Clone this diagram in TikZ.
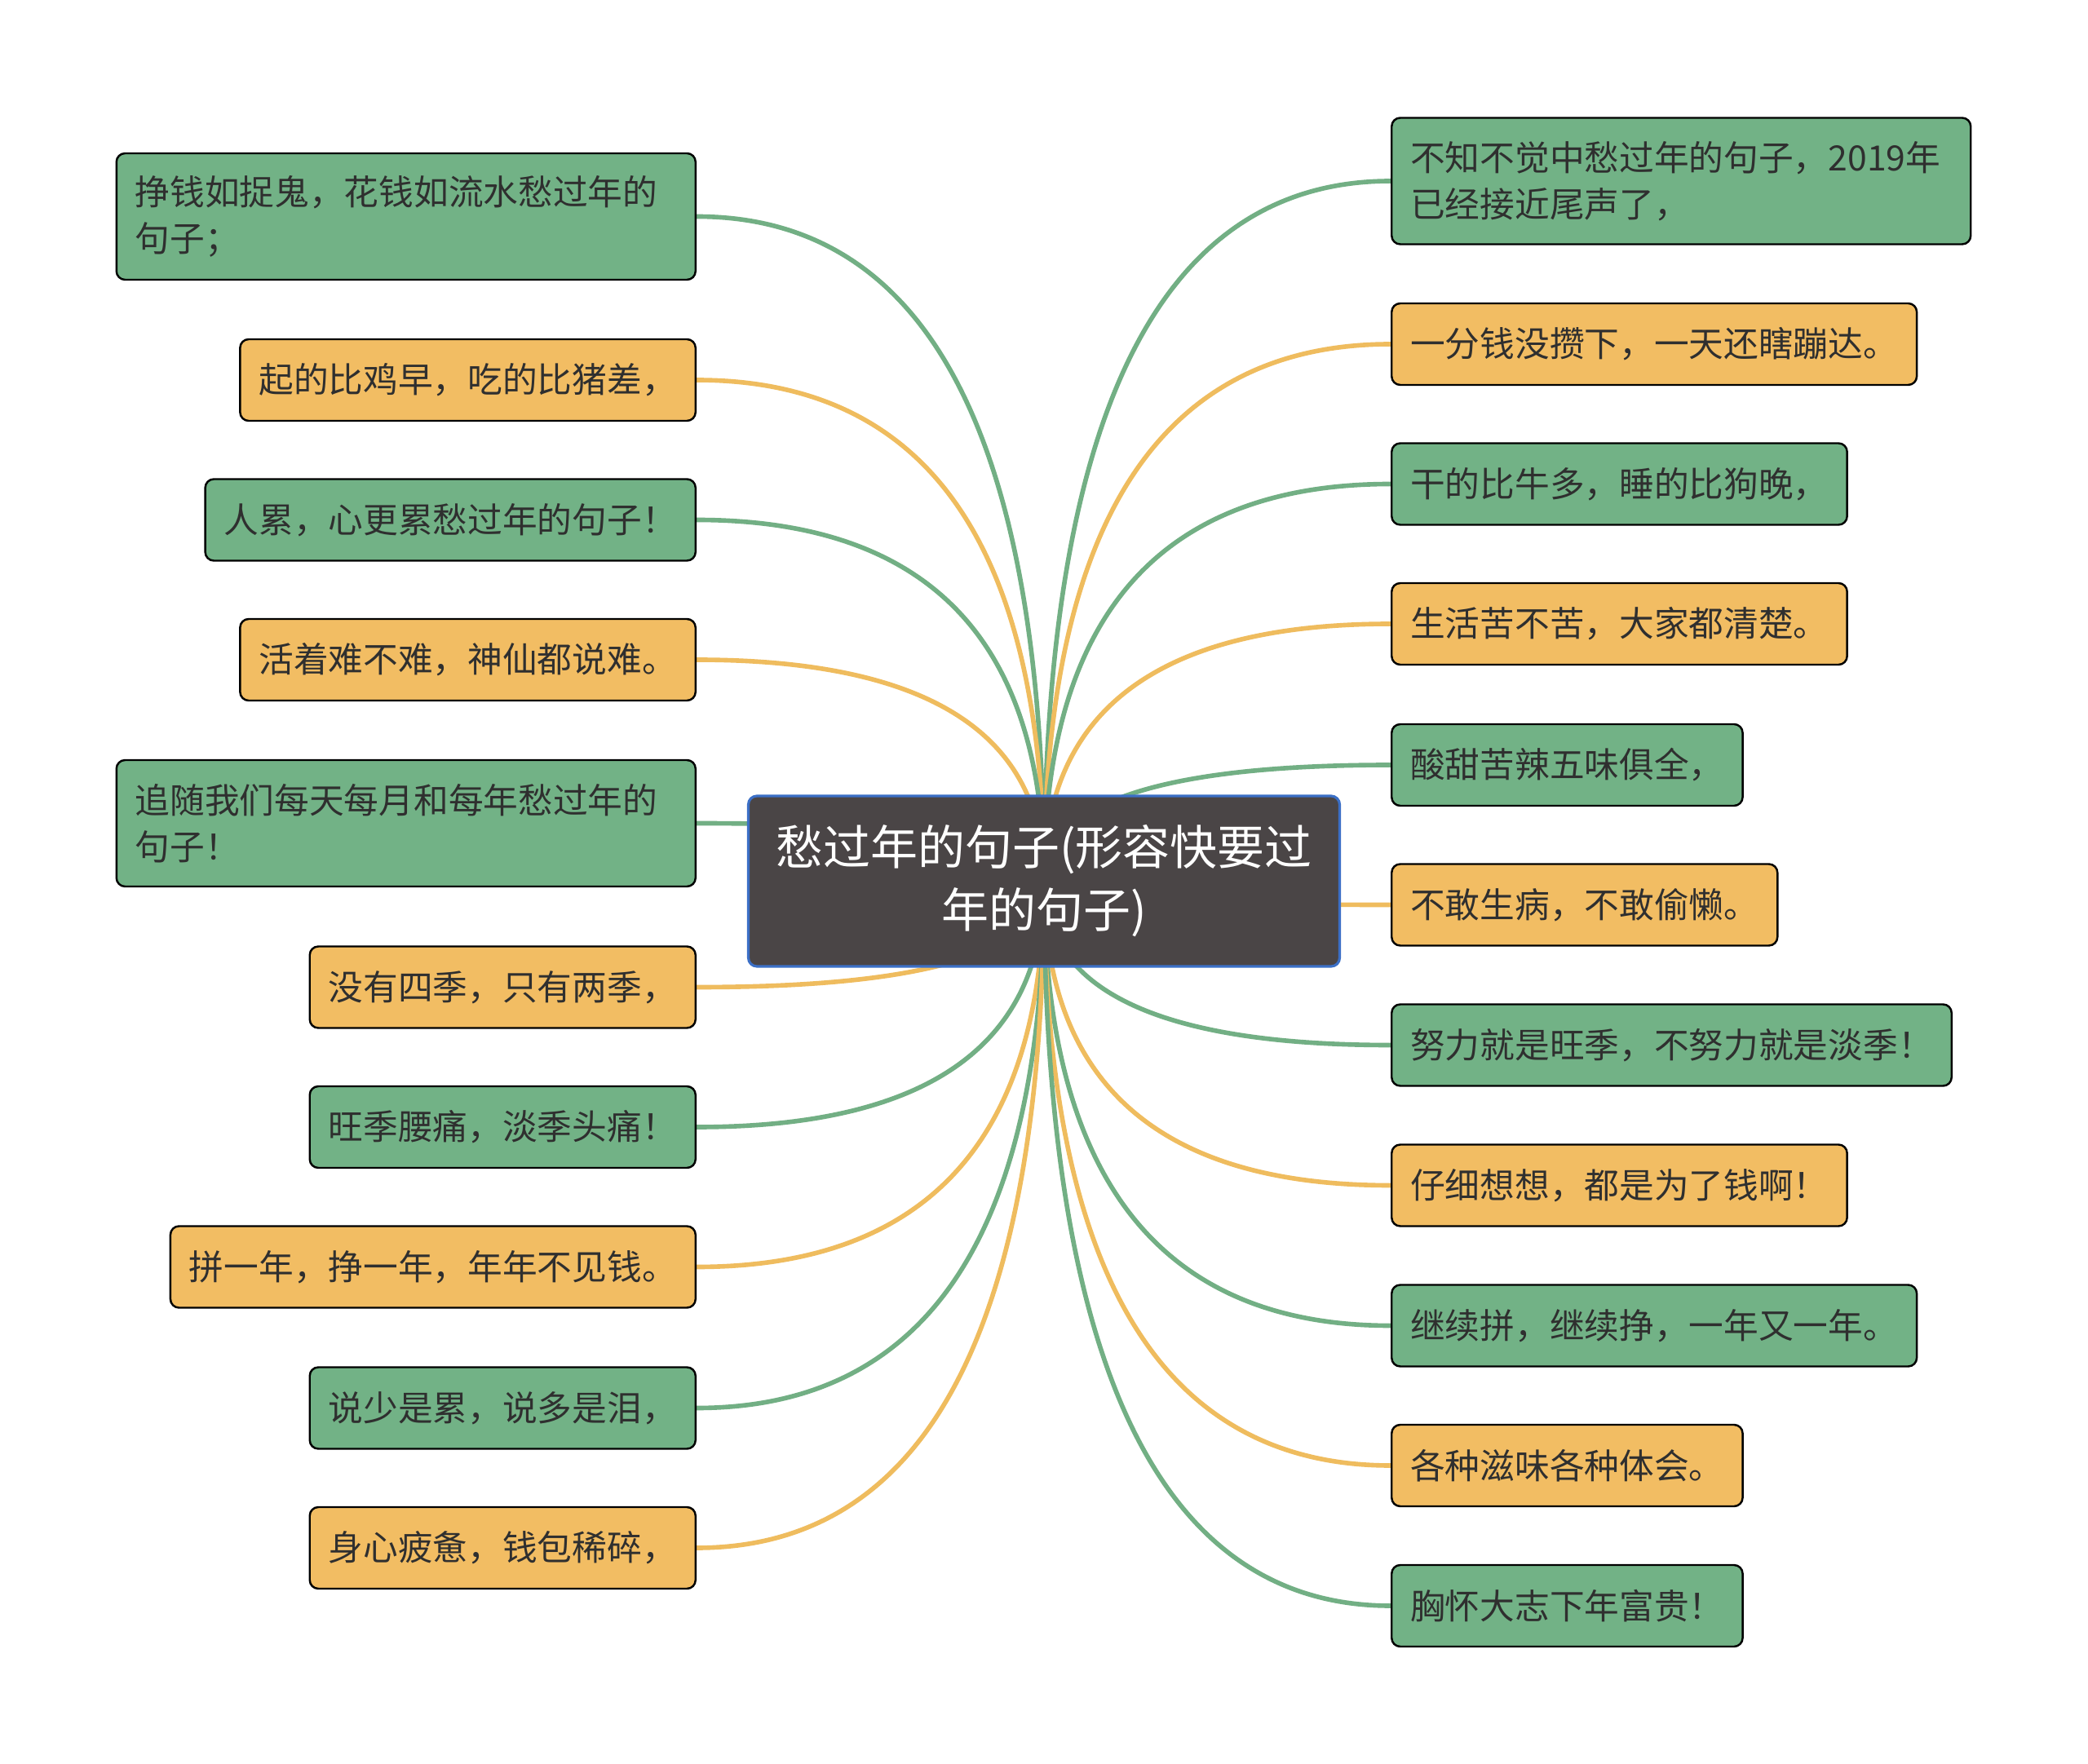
\documentclass[tikz,border=0pt]{standalone}
\usepackage{fontspec}
\newfontfamily\cjk{Noto Sans CJK SC}
\usetikzlibrary{calc,backgrounds}
\definecolor{leafgreen}{HTML}{72B286}
\definecolor{leaforange}{HTML}{F2BD63}
\definecolor{linkgreen}{HTML}{72AF84}
\definecolor{linkorange}{HTML}{EFBC5E}
\definecolor{rootfill}{HTML}{4A4546}
\definecolor{rootedge}{HTML}{3B6FC6}
\definecolor{inkgray}{HTML}{2F2F2F}
\begin{document}
\begin{tikzpicture}
\tikzset{ leaf/.style={draw=black, line width=0.7pt, rounded corners=3pt,
    inner xsep=0.23cm, inner ysep=0pt, minimum height=1cm, text=inkgray,
    font=\cjk\fontsize{12.15pt}{16.2pt}\selectfont},
  gleaf/.style={leaf, fill=leafgreen},
  oleaf/.style={leaf, fill=leaforange},
  twoline/.style={text width=6.64cm, align=left, minimum height=1.55cm},
  root/.style={draw=rootedge, line width=0.9pt, fill=rootfill, rounded corners=3pt,
    minimum width=7.25cm, minimum height=2.09cm, align=center, text=white,
    font=\cjk\fontsize{16.5pt}{21.9pt}\selectfont},
  branch/.style={to path={.. controls ($(\tikztostart)!2/3!(\tikztostart |- \tikztotarget)$)
    and ($(\tikztotarget)!2/3!(\tikztostart |- \tikztotarget)$) .. (\tikztotarget)}},
  glink/.style={draw=linkgreen, line width=1.6pt, branch},
  olink/.style={draw=linkorange, line width=1.6pt, branch},
}
\useasboundingbox (0,0) rectangle (25.6,-21.63);

\node [root] (c) at (12.80,-10.805) {愁过年的句子(形容快要过\\年的句子)};

\node [gleaf, twoline, anchor=east] (L1)  at (8.54,-2.655)  {挣钱如捉鬼，花钱如流水愁过年的\\句子；};
\node [oleaf, anchor=east] (L2)  at (8.54,-4.66)   {起的比鸡早，吃的比猪差，};
\node [gleaf, anchor=east] (L3)  at (8.54,-6.375)  {人累，心更累愁过年的句子！};
\node [oleaf, anchor=east] (L4)  at (8.54,-8.09)   {活着难不难，神仙都说难。};
\node [gleaf, twoline, anchor=east] (L5)  at (8.54,-10.095) {追随我们每天每月和每年愁过年的\\句子！};
\node [oleaf, anchor=east] (L6)  at (8.54,-12.105) {没有四季，只有两季，};
\node [gleaf, anchor=east] (L7)  at (8.54,-13.82)  {旺季腰痛，淡季头痛！};
\node [oleaf, anchor=east] (L8)  at (8.54,-15.535) {拼一年，挣一年，年年不见钱。};
\node [gleaf, anchor=east] (L9)  at (8.54,-17.265) {说少是累，说多是泪，};
\node [oleaf, anchor=east] (L10) at (8.54,-18.98)  {身心疲惫，钱包稀碎，};

\node [gleaf, twoline, anchor=west] (R1)  at (17.05,-2.22)  {不知不觉中愁过年的句子，2019年\\已经接近尾声了，};
\node [oleaf, anchor=west] (R2)  at (17.05,-4.22)   {一分钱没攒下，一天还瞎蹦达。};
\node [gleaf, anchor=west] (R3)  at (17.05,-5.935)  {干的比牛多，睡的比狗晚，};
\node [oleaf, anchor=west] (R4)  at (17.05,-7.65)   {生活苦不苦，大家都清楚。};
\node [gleaf, anchor=west] (R5)  at (17.05,-9.38)   {酸甜苦辣五味俱全，};
\node [oleaf, anchor=west] (R6)  at (17.05,-11.095) {不敢生病，不敢偷懒。};
\node [gleaf, anchor=west] (R7)  at (17.05,-12.815) {努力就是旺季，不努力就是淡季！};
\node [oleaf, anchor=west] (R8)  at (17.05,-14.535) {仔细想想，都是为了钱啊！};
\node [gleaf, anchor=west] (R9)  at (17.05,-16.255) {继续拼，继续挣，一年又一年。};
\node [oleaf, anchor=west] (R10) at (17.05,-17.97)  {各种滋味各种体会。};
\node [gleaf, anchor=west] (R11) at (17.05,-19.69)  {胸怀大志下年富贵！};

\begin{scope}[on background layer]
\fill [white] (0,0) rectangle (25.6,-21.63);

\draw [glink] (c.center) to (L1.east);
\draw [olink] (c.center) to (L2.east);
\draw [glink] (c.center) to (L3.east);
\draw [olink] (c.center) to (L4.east);
\draw [glink] (c.center) to (L5.east);
\draw [olink] (c.center) to (L6.east);
\draw [glink] (c.center) to (L7.east);
\draw [olink] (c.center) to (L8.east);
\draw [glink] (c.center) to (L9.east);
\draw [olink] (c.center) to (L10.east);

\draw [glink] (c.center) to (R1.west);
\draw [olink] (c.center) to (R2.west);
\draw [glink] (c.center) to (R3.west);
\draw [olink] (c.center) to (R4.west);
\draw [glink] (c.center) to (R5.west);
\draw [olink] (c.center) to (R6.west);
\draw [glink] (c.center) to (R7.west);
\draw [olink] (c.center) to (R8.west);
\draw [glink] (c.center) to (R9.west);
\draw [olink] (c.center) to (R10.west);
\draw [glink] (c.center) to (R11.west);
\end{scope}

\end{tikzpicture}
\end{document}
